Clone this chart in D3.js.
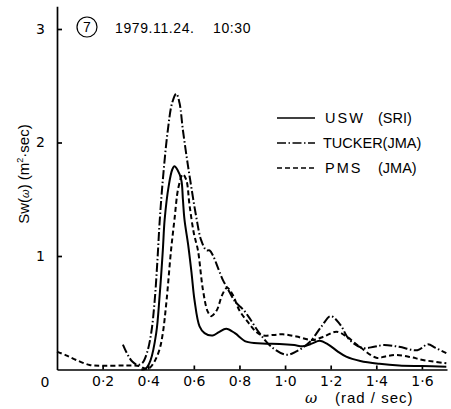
<!DOCTYPE html>
<html>
<head>
<meta charset="utf-8">
<script src="https://cdn.jsdelivr.net/npm/d3@7"></script>
<style>
  body { margin: 0; background: #fff; }
  svg { display: block; background: #fff; }
  .axis path, .axis line { stroke: #000; stroke-width: 1.7; }
  .axis text { font-family: "DejaVu Sans", sans-serif; font-size: 14px; fill: #000; }
  .lbl { font-family: "Liberation Sans", sans-serif; fill: #000; }
</style>
</head>
<body>
<div id="chart"></div>
<script>
let canvasWidth = 451;
let canvasHeight = 409;

// omega (rad/sec) and Sw(omega) (m^2.sec)
let tuckerW = [0.289, 0.31, 0.33, 0.353, 0.375, 0.395, 0.413, 0.428, 0.44, 0.45, 0.464, 0.486, 0.505, 0.523, 0.537, 0.552, 0.568, 0.584, 0.61, 0.632, 0.655, 0.669, 0.685, 0.705, 0.727, 0.749, 0.78, 0.805, 0.82, 0.845, 0.888, 0.94, 1.005, 1.05, 1.107, 1.16, 1.2, 1.24, 1.283, 1.34, 1.39, 1.43, 1.5, 1.58, 1.626, 1.66, 1.707];
let tuckerS = [0.22, 0.13, 0.07, 0.04, 0.06, 0.15, 0.32, 0.6, 0.95, 1.3, 1.67, 2.11, 2.35, 2.43, 2.35, 2.11, 1.88, 1.67, 1.35, 1.14, 1.05, 1.05, 1.0, 0.9, 0.79, 0.71, 0.6, 0.55, 0.52, 0.45, 0.32, 0.2, 0.13, 0.16, 0.24, 0.38, 0.47, 0.4, 0.26, 0.19, 0.2, 0.215, 0.2, 0.17, 0.222, 0.19, 0.145];

let uswW = [0.37, 0.39, 0.41, 0.435, 0.45, 0.464, 0.472, 0.49, 0.505, 0.515, 0.528, 0.545, 0.552, 0.559, 0.575, 0.59, 0.603, 0.625, 0.647, 0.683, 0.71, 0.742, 0.78, 0.83, 0.9, 0.976, 1.04, 1.078, 1.12, 1.151, 1.19, 1.23, 1.268, 1.33, 1.414, 1.5, 1.6, 1.707];
let uswS = [0.0, 0.01, 0.08, 0.32, 0.65, 1.05, 1.32, 1.62, 1.76, 1.79, 1.76, 1.67, 1.5, 1.32, 1.1, 0.85, 0.61, 0.38, 0.32, 0.3, 0.33, 0.36, 0.32, 0.245, 0.23, 0.225, 0.215, 0.205, 0.23, 0.254, 0.22, 0.16, 0.113, 0.075, 0.05, 0.035, 0.03, 0.025];

let pmsW = [0, 0.04, 0.084, 0.143, 0.2, 0.3, 0.36, 0.39, 0.406, 0.43, 0.45, 0.464, 0.48, 0.5, 0.515, 0.532, 0.552, 0.567, 0.581, 0.6, 0.618, 0.64, 0.661, 0.676, 0.7, 0.725, 0.746, 0.77, 0.8, 0.84, 0.874, 0.903, 0.95, 0.99, 1.05, 1.12, 1.17, 1.225, 1.27, 1.327, 1.4, 1.44, 1.488, 1.55, 1.604, 1.707];
let pmsS = [0.157, 0.125, 0.084, 0.04, 0.033, 0.035, 0.03, 0.005, 0.013, 0.08, 0.18, 0.32, 0.6, 1.05, 1.32, 1.6, 1.72, 1.67, 1.45, 1.2, 1.05, 0.7, 0.51, 0.47, 0.52, 0.66, 0.72, 0.66, 0.52, 0.41, 0.33, 0.3, 0.305, 0.31, 0.29, 0.26, 0.29, 0.333, 0.29, 0.2, 0.104, 0.115, 0.128, 0.11, 0.084, 0.055];

let xTicks = [0.2, 0.4, 0.6, 0.8, 1.0, 1.2, 1.4, 1.6];
let yTicks = [1, 2, 3];

let seriesNames = ["USW", "TUCKER(JMA)", "PMS"];
let seriesDash = ["none", "9,2.5,1.5,2.5", "5,3"];

let svg = d3.select("div#chart")
    .append("svg")
    .attr("width", canvasWidth)
    .attr("height", canvasHeight);

let xScale = d3.scaleLinear().domain([0, 1.71]).range([57, 447]);
let yScale = d3.scaleLinear().domain([0, 3.2]).range([369.5, 6.3]);

let fmt = d => d3.format(".1f")(d).replace(".", "\u00b7");

// x axis, ticks pointing up
svg.append("g")
    .attr("class", "axis")
    .attr("transform", "translate(0, " + yScale(0) + ")")
    .call(d3.axisBottom(xScale)
        .tickValues(xTicks)
        .tickSize(-4)
        .tickSizeOuter(0)
        .tickPadding(7)
        .tickFormat(fmt));

// y axis, ticks pointing in
svg.append("g")
    .attr("class", "axis")
    .attr("transform", "translate(" + xScale(0) + ", 0)")
    .call(d3.axisLeft(yScale)
        .tickValues(yTicks)
        .tickSize(-5)
        .tickSizeOuter(0)
        .tickPadding(12)
        .tickFormat(d3.format("d")));

// origin label
svg.append("text")
    .attr("class", "lbl")
    .attr("x", 45)
    .attr("y", 387)
    .attr("text-anchor", "middle")
    .style("font-family", "DejaVu Sans")
    .style("font-size", "14px")
    .text("0");

let line = d3.line()
    .x(d => xScale(d[0]))
    .y(d => yScale(d[1]))
    .curve(d3.curveCatmullRom.alpha(0.5));

let curves = [
    d3.zip(uswW, uswS),
    d3.zip(tuckerW, tuckerS),
    d3.zip(pmsW, pmsS)
];

curves.forEach((c, i) => {
    svg.append("path")
        .datum(c)
        .attr("fill", "none")
        .attr("stroke", "#000")
        .attr("stroke-width", 2)
        .attr("stroke-dasharray", seriesDash[i])
        .attr("d", line);
});

// legend
let legendY = [118, 143, 168];
let legendRight = ["(SRI)", "", "(JMA)"];
legendY.forEach((ly, i) => {
    svg.append("line")
        .attr("x1", 277).attr("x2", 315)
        .attr("y1", ly).attr("y2", ly)
        .attr("stroke", "#000")
        .attr("stroke-width", 1.7)
        .attr("stroke-dasharray", seriesDash[i]);
    let t = svg.append("text")
        .attr("class", "lbl")
        .attr("y", ly + 5)
        .style("font-size", "14.5px");
    t.append("tspan").attr("x", i == 1 ? 323 : 325)
        .style("letter-spacing", i == 1 ? "0px" : "2px")
        .text(seriesNames[i]);
    if (legendRight[i]) t.append("tspan").attr("x", 378).text(legendRight[i]);
});

// title
svg.append("circle")
    .attr("cx", 87).attr("cy", 27).attr("r", 10)
    .attr("fill", "none").attr("stroke", "#000").attr("stroke-width", 1.2);
svg.append("text")
    .attr("class", "lbl")
    .attr("x", 87).attr("y", 32)
    .attr("text-anchor", "middle")
    .style("font-size", "14px")
    .text("7");
svg.append("text")
    .attr("class", "lbl")
    .attr("x", 115).attr("y", 33)
    .style("font-size", "14px")
    .style("letter-spacing", "0.6px")
    .text("1979.11.24.");
svg.append("text")
    .attr("class", "lbl")
    .attr("x", 213).attr("y", 33)
    .style("font-size", "14px")
    .style("letter-spacing", "0.6px")
    .text("10:30");

// x label
let xl = svg.append("text")
    .attr("class", "lbl")
    .attr("x", 305).attr("y", 403)
    .style("font-size", "15px");
xl.append("tspan").style("font-style", "italic").style("font-family", "DejaVu Serif").text("\u03c9");
xl.append("tspan").attr("x", 335).style("letter-spacing", "1px").text("(rad / sec)");

// y label
let yl = svg.append("text")
    .attr("class", "lbl")
    .attr("transform", "translate(29, 174) rotate(-90)")
    .attr("text-anchor", "middle")
    .style("font-size", "15px");
yl.append("tspan").text("Sw(");
yl.append("tspan").style("font-style", "italic").style("font-size", "11px").text("\u03c9");
yl.append("tspan").text(")  (m");
yl.append("tspan").attr("dy", -6).style("font-size", "9px").text("2");
yl.append("tspan").attr("dy", 6).text("\u00b7sec)");
</script>
</body>
</html>
